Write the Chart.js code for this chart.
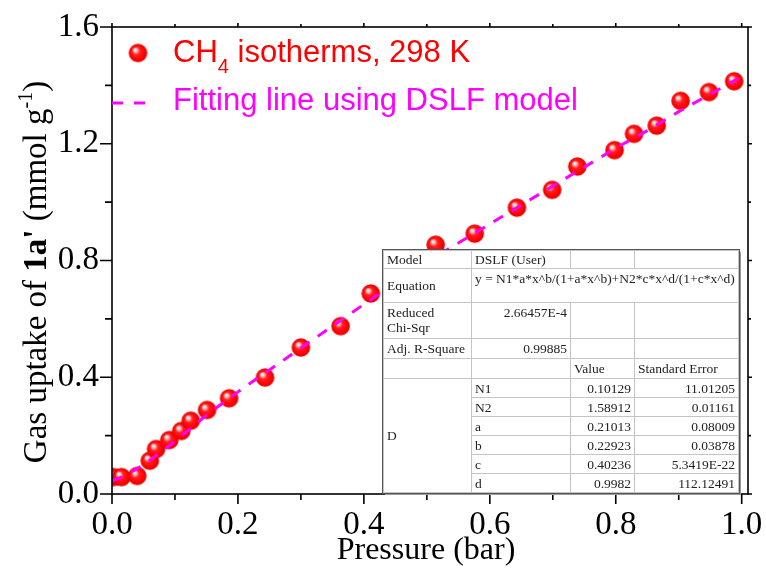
<!DOCTYPE html>
<html>
<head>
<meta charset="utf-8">
<script src="https://cdn.jsdelivr.net/npm/chart.js@4.4.1/dist/chart.umd.min.js"></script>
<style>
  body { margin: 0; background: #fff; }
  #wrap { position: relative; width: 766px; height: 576px; }
  #fit-table {
    position: absolute; left: 383px; top: 250px; width: 355px;
    border-collapse: collapse; table-layout: fixed; background: #fff;
    font-family: "Liberation Serif", "Times New Roman", serif; font-size: 13.5px; color: #222;
    outline: 1px solid #555; box-shadow: 2px 2px 0 #999;
  }
  #fit-table td {
    border: 1px solid #c4c4c4; padding: 0 3px; line-height: 15px;
    white-space: nowrap; overflow: visible; vertical-align: middle;
  }
  #fit-table td.top { vertical-align: top; padding-top: 2px; }
  #fit-table td.num { text-align: right; }
</style>
</head>
<body>
<div id="wrap">
  <canvas id="chart" width="766" height="576"></canvas>
  <table id="fit-table">
    <colgroup><col style="width:88px"><col style="width:99px"><col style="width:64px"><col style="width:104px"></colgroup>
    <tbody id="fit-body"></tbody>
  </table>
</div>
<script>
// --- DATA ---
const pressure = [0.002, 0.015, 0.040, 0.060, 0.070, 0.091, 0.110, 0.125, 0.151, 0.186, 0.243, 0.300, 0.363,
                  0.411, 0.514, 0.576, 0.643, 0.699, 0.739, 0.798, 0.829, 0.865, 0.903, 0.948, 0.988];
const uptake = [0.058, 0.058, 0.062, 0.114, 0.154, 0.185, 0.216, 0.251, 0.288, 0.328, 0.399, 0.502, 0.575,
                0.687, 0.854, 0.892, 0.981, 1.042, 1.122, 1.178, 1.234, 1.262, 1.347, 1.377, 1.414];

// DSLF fitted curve
const fitPressure = [0, 0.02, 0.05, 0.10, 0.15, 0.20, 0.25, 0.30, 0.35, 0.40, 0.45, 0.50, 0.55,
                     0.60, 0.65, 0.70, 0.75, 0.80, 0.85, 0.90, 0.95, 1.00];
const fitUptake = [0.045, 0.062, 0.100, 0.180, 0.270, 0.350, 0.425, 0.500, 0.575, 0.650, 0.725, 0.795, 0.860,
                   0.925, 0.990, 1.055, 1.120, 1.185, 1.245, 1.310, 1.370, 1.430];

const xTicks = [0, 0.2, 0.4, 0.6, 0.8, 1.0];
const yTicks = [0, 0.4, 0.8, 1.2, 1.6];

// fit report
const paramNames = ['N1', 'N2', 'a', 'b', 'c', 'd'];
const paramValues = ['0.10129', '1.58912', '0.21013', '0.22923', '0.40236', '0.9982'];
const paramErrors = ['11.01205', '0.01161', '0.08009', '0.03878', '5.3419E-22', '112.12491'];

const SERIF = '"Liberation Serif", "Times New Roman", serif';
const SANS = '"Liberation Sans", Arial, sans-serif';

// --- FIT TABLE ---
const $body = document.getElementById('fit-body');
let rows = `
  <tr style="height:18px"><td>Model</td><td>DSLF (User)</td><td></td><td></td></tr>
  <tr style="height:34px"><td>Equation</td><td colspan="3" class="top">y = N1*a*x^b/(1+a*x^b)+N2*c*x^d/(1+c*x^d)</td></tr>
  <tr style="height:36px"><td class="top">Reduced<br>Chi-Sqr</td><td class="top num">2.66457E-4</td><td></td><td></td></tr>
  <tr style="height:20px"><td>Adj. R-Square</td><td class="top num">0.99885</td><td></td><td></td></tr>
  <tr style="height:20px"><td></td><td></td><td>Value</td><td>Standard Error</td></tr>`;
paramNames.forEach((name, i) => {
  rows += `<tr style="height:19px">${i === 0 ? '<td rowspan="6">D</td>' : ''}` +
          `<td>${name}</td><td class="num">${paramValues[i]}</td><td class="num">${paramErrors[i]}</td></tr>`;
});
$body.innerHTML = rows;

// --- SPHERE MARKER ---
function makeSphere(r) {
  const c = document.createElement('canvas');
  c.width = c.height = Math.ceil(r * 2 + 2);
  const g = c.getContext('2d');
  const m = c.width / 2;
  const grad = g.createRadialGradient(m - r * 0.35, m - r * 0.38, 0, m, m, r);
  grad.addColorStop(0, '#ffffff');
  grad.addColorStop(0.18, '#ffc8c8');
  grad.addColorStop(0.42, '#ff2020');
  grad.addColorStop(0.8, '#ff0000');
  grad.addColorStop(1, '#e00000');
  g.fillStyle = grad;
  g.beginPath();
  g.arc(m, m, r, 0, Math.PI * 2);
  g.fill();
  return c;
}
const sphere = makeSphere(9.3);

// --- FRAME, TICKS, TITLES, LEGEND ---
function drawRuns(ctx, runs, x, y) {
  let cx = x;
  runs.forEach(r => {
    ctx.font = r.font;
    ctx.fillText(r.text, cx, y + (r.dy || 0));
    cx += ctx.measureText(r.text).width;
  });
  return cx - x;
}
function runsWidth(ctx, runs) {
  return runs.reduce((w, r) => { ctx.font = r.font; return w + ctx.measureText(r.text).width; }, 0);
}

const framePlugin = {
  id: 'frame',
  afterDraw(chart) {
    const { ctx, chartArea: a, scales: { x, y } } = chart;
    ctx.save();
    ctx.strokeStyle = '#000';
    ctx.lineWidth = 1.6;
    ctx.strokeRect(a.left, a.top, a.right - a.left, a.bottom - a.top);
    ctx.beginPath();
    for (let i = 0; i <= 10; i++) {
      const px = x.getPixelForValue(i / 10);
      const major = i % 2 === 0;
      ctx.moveTo(px, a.bottom); ctx.lineTo(px, a.bottom + (major ? 10 : 6));
      ctx.moveTo(px, a.top); ctx.lineTo(px, a.top - (major ? 4 : 3));
    }
    for (let i = 0; i <= 8; i++) {
      const py = y.getPixelForValue(i * 0.2);
      const major = i % 2 === 0;
      ctx.moveTo(a.left, py); ctx.lineTo(a.left - (major ? 12 : 7), py);
      ctx.moveTo(a.right, py); ctx.lineTo(a.right + (major ? 4 : 3), py);
    }
    ctx.stroke();

    // x title
    ctx.fillStyle = '#000';
    ctx.textAlign = 'center';
    ctx.textBaseline = 'alphabetic';
    ctx.font = `32px ${SERIF}`;
    ctx.fillText('Pressure (bar)', 426, 559);

    // y title, mixed bold and superscript
    ctx.textAlign = 'left';
    const yRuns = [
      { text: 'Gas uptake of ', font: `33px ${SERIF}` },
      { text: "1a'", font: `bold 33px ${SERIF}` },
      { text: ' (mmol g', font: `33px ${SERIF}` },
      { text: '-1', font: `20px ${SERIF}`, dy: -14 },
      { text: ')', font: `33px ${SERIF}` }
    ];
    ctx.save();
    ctx.translate(46, 272);
    ctx.rotate(-Math.PI / 2);
    drawRuns(ctx, yRuns, -runsWidth(ctx, yRuns) / 2, 0);
    ctx.restore();

    // legend
    ctx.drawImage(sphere, 138 - sphere.width / 2, 53 - sphere.height / 2);
    ctx.fillStyle = '#ff0000';
    drawRuns(ctx, [
      { text: 'CH', font: `31px ${SANS}` },
      { text: '4', font: `20px ${SANS}`, dy: 11 },
      { text: ' isotherms, 298 K', font: `31px ${SANS}` }
    ], 173, 62);

    ctx.strokeStyle = '#ff00ff';
    ctx.lineWidth = 3;
    ctx.setLineDash([11, 11]);
    ctx.beginPath();
    ctx.moveTo(112, 103); ctx.lineTo(146, 103);
    ctx.stroke();
    ctx.setLineDash([]);
    ctx.fillStyle = '#ff00ff';
    ctx.font = `31px ${SANS}`;
    ctx.fillText('Fitting line using DSLF model', 173, 110);
    ctx.restore();
  }
};

// keep the plot box fixed; tick labels may overhang the edges
function fixPadding(s) {
  s.paddingLeft = 0; s.paddingRight = 0; s.paddingTop = 0; s.paddingBottom = 0;
}

// --- CHART ---
const chart = new Chart(document.getElementById('chart'), {
  type: 'scatter',
  data: {
    datasets: [{
      type: 'line',
      label: 'Fitting line using DSLF model',
      data: fitPressure.map((p, i) => ({ x: p, y: fitUptake[i] })),
      borderColor: '#ff00ff',
      borderWidth: 3,
      borderDash: [11, 10],
      pointRadius: 0,
      tension: 0,
      fill: false,
      order: 0
    }, {
      label: 'CH4 isotherms, 298 K',
      data: pressure.map((p, i) => ({ x: p, y: uptake[i] })),
      pointStyle: sphere,
      pointRadius: 9,
      order: 1
    }]
  },
  options: {
    responsive: false,
    animation: false,
    events: [],
    layout: { padding: { top: 27, right: 18, left: 0, bottom: 0 } },
    scales: {
      x: {
        type: 'linear', min: 0, max: 1.01,
        grid: { display: false, drawTicks: false },
        border: { display: false },
        afterBuildTicks: s => { s.ticks = xTicks.map(v => ({ value: v })); },
        afterFit: s => { s.height = 82; fixPadding(s); },
        ticks: {
          padding: 12,
          color: '#000',
          font: { family: SERIF, size: 33 },
          callback: v => v.toFixed(1)
        }
      },
      y: {
        type: 'linear', min: 0, max: 1.6,
        grid: { display: false, drawTicks: false },
        border: { display: false },
        afterBuildTicks: s => { s.ticks = yTicks.map(v => ({ value: v })); },
        afterFit: s => { s.width = 112; fixPadding(s); },
        ticks: {
          padding: 13,
          color: '#000',
          font: { family: SERIF, size: 33 },
          callback: v => v.toFixed(1)
        }
      }
    },
    plugins: {
      legend: { display: false },
      tooltip: { enabled: false }
    }
  },
  plugins: [framePlugin]
});
</script>
</body>
</html>
